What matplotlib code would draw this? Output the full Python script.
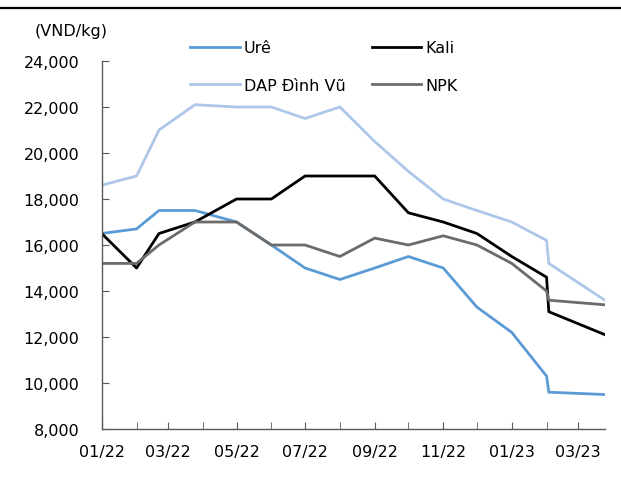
import matplotlib
matplotlib.use("Agg")
import matplotlib.pyplot as plt
import matplotlib.dates as mdates
from matplotlib.lines import Line2D
from matplotlib.ticker import FuncFormatter, MultipleLocator
import pandas as pd

# price dates (irregular at the start and around 02/2023)
dates = ["2022-01-01", "2022-02-01", "2022-02-21", "2022-03-25", "2022-05-01",
         "2022-06-01", "2022-07-01", "2022-08-01", "2022-09-01", "2022-10-01",
         "2022-11-01", "2022-12-01", "2023-01-01", "2023-02-01", "2023-02-03",
         "2023-03-25"]

ure = [16500, 16700, 17500, 17500, 17000, 16000, 15000, 14500, 15000, 15500,
       15000, 13300, 12200, 10300, 9600, 9500]
kali = [16500, 15000, 16500, 17000, 18000, 18000, 19000, 19000, 19000, 17400,
        17000, 16500, 15500, 14600, 13100, 12100]
dap = [18600, 19000, 21000, 22100, 22000, 22000, 21500, 22000, 20500, 19200,
       18000, 17500, 17000, 16200, 15200, 13600]
npk = [15200, 15200, 16000, 17000, 17000, 16000, 16000, 15500, 16300, 16000,
       16400, 16000, 15200, 14000, 13600, 13400]

x = pd.to_datetime(dates)

fig = plt.figure(figsize=(6.21, 5.02), dpi=100)
ax = fig.add_axes([0.1638, 0.1434, 0.8104, 0.7331])

l_ure, = ax.plot(x, ure, color="#5B9BD5", lw=2.0, label="Urê")
l_kali, = ax.plot(x, kali, color="black", lw=2.0, label="Kali")
l_dap, = ax.plot(x, dap, color="#AEC6EA", lw=2.0, label="DAP Đình Vũ")
l_npk, = ax.plot(x, npk, color="#6B6B6B", lw=2.0, label="NPK")

ax.set_ylim(8000, 24000)
ax.yaxis.set_major_locator(MultipleLocator(2000))
ax.yaxis.set_major_formatter(FuncFormatter(lambda v, p: "{:,.0f}".format(v)))

ax.set_xlim(x[0], x[-1])
ax.xaxis.set_major_locator(mdates.MonthLocator(bymonth=[1, 3, 5, 7, 9, 11]))
ax.xaxis.set_minor_locator(mdates.MonthLocator())
ax.xaxis.set_major_formatter(mdates.DateFormatter("%m/%y"))

for s in ["top", "right"]:
    ax.spines[s].set_visible(False)
for s in ["left", "bottom"]:
    ax.spines[s].set_color("#595959")
    ax.spines[s].set_linewidth(1.0)

ax.tick_params(which="both", direction="in", length=5, color="#595959",
               labelsize=11.5, labelcolor="black")
ax.tick_params(axis="y", pad=16)
ax.tick_params(axis="x", pad=11)

fig.text(0.056, 0.938, "(VND/kg)", fontsize=11.5, va="center")

fig.legend([l_ure, l_dap, l_kali, l_npk], ["Urê", "DAP Đình Vũ", "Kali", "NPK"],
           ncol=2, frameon=False, fontsize=11.5, loc="upper left",
           bbox_to_anchor=(0.306, 0.918), borderpad=0, borderaxespad=0,
           handlelength=3.1, handletextpad=0.25, columnspacing=1.65,
           labelspacing=1.4)

# black rule across the top
fig.add_artist(Line2D([0, 1], [0.983, 0.983], color="black", lw=1.6))

fig.savefig("out.png", dpi=100)
